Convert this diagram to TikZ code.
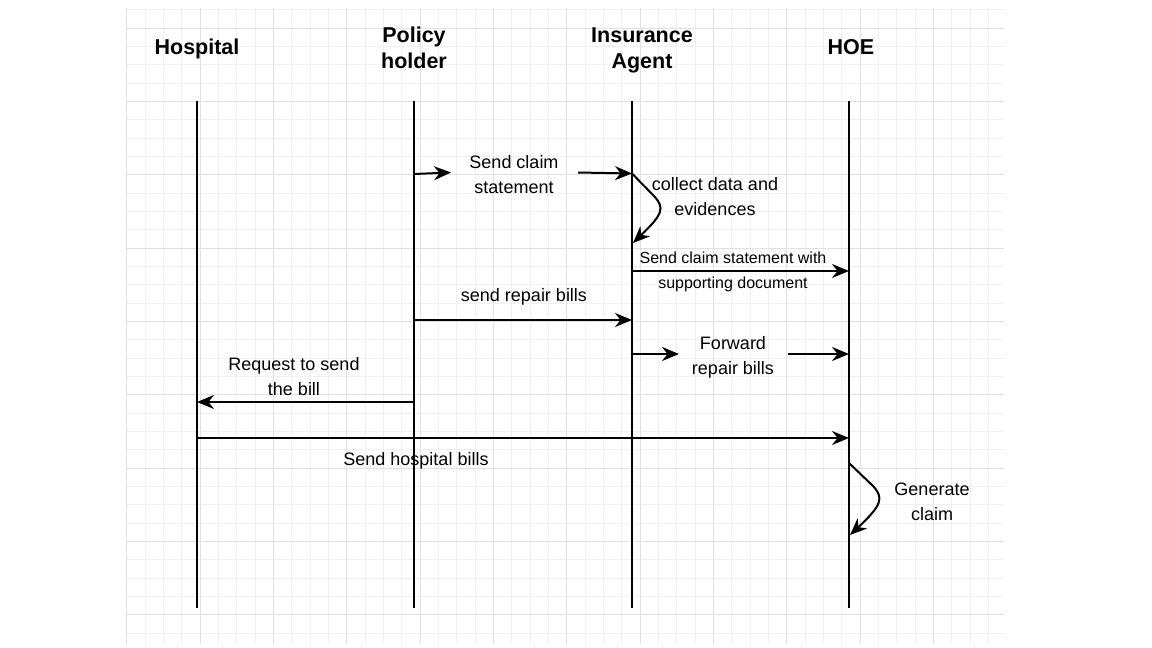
\documentclass[tikz,border=0pt]{standalone}
\usepackage{fontspec}
\setmainfont{Liberation Sans}
\usetikzlibrary{arrows.meta}
\definecolor{minorgrid}{HTML}{F0F0F0}
\definecolor{majorgrid}{HTML}{E0E0E0}
\tikzset{
  lifeline/.style={line width=2pt, black},
  msg/.style={line width=2pt, black, -{Stealth[length=17pt,width=14pt,inset=5.5pt]}},
  head/.style={font=\fontsize{21.5}{26}\selectfont\bfseries, align=center},
  lbl/.style={font=\fontsize{18}{25}\selectfont, align=center},
  small/.style={font=\fontsize{16}{25}\selectfont, align=center},
}
\begin{document}
\begin{tikzpicture}[x=1pt,y=-1pt]
\useasboundingbox (0,0) rectangle (1152,648);
\fill[white] (0,0) rectangle (1152,648);
% grid
\foreach \i in {0,...,47} {
  \pgfmathsetmacro{\xx}{126.7+18.333*\i}
  \draw[minorgrid, line width=0.8pt] (\xx,8) -- (\xx,644);
}
\foreach \j in {0,...,34} {
  \pgfmathsetmacro{\yy}{9.7+18.333*\j}
  \draw[minorgrid, line width=0.8pt] (127,\yy) -- (1004,\yy);
}
\foreach \i in {0,...,11} {
  \pgfmathsetmacro{\xx}{126.7+73.333*\i}
  \draw[majorgrid, line width=0.9pt] (\xx,8) -- (\xx,644);
}
\foreach \j in {0,...,8} {
  \pgfmathsetmacro{\yy}{28+73.333*\j}
  \draw[majorgrid, line width=0.9pt] (127,\yy) -- (1004,\yy);
}
% headers
\node[head] (hH) at (197,49) {Hospital};
\node[head] (hP) at (414,47.5) {Policy\\holder};
\node[head] (hI) at (642,50) {Insurance\\Agent};
\node[head] (hO) at (851,47.5) {HOE};
% lifelines
\coordinate (Htop) at (197,101); \coordinate (Hbot) at (197,608);
\coordinate (Ptop) at (414,101); \coordinate (Pbot) at (414,608);
\coordinate (Itop) at (632,101); \coordinate (Ibot) at (632,608);
\coordinate (Otop) at (849,101); \coordinate (Obot) at (849,608);
\draw[lifeline] (Htop) -- (Hbot);
\draw[lifeline] (Ptop) -- (Pbot);
\draw[lifeline] (Itop) -- (Ibot);
\draw[lifeline] (Otop) -- (Obot);
% 1 send claim statement
\coordinate (m1a) at (414,174);
\coordinate (m1b) at (451,172.5);
\coordinate (m1c) at (578,172.5);
\coordinate (m1d) at (632,173.5);
\node[lbl] (t1) at (514,174.5) {Send claim\\statement};
\draw[msg] (m1a) -- (m1b);
\draw[msg] (m1c) -- (m1d);
% 2 collect data
\coordinate (s2a) at (632,173.5);
\coordinate (s2b) at (633,243);
\draw[msg] (s2a) -- (654,196) .. controls (665,208) and (663,214) .. (s2b);
\node[lbl] (t2) at (715,196.5) {collect data and\\evidences};
% 3 send claim statement with supporting
\coordinate (m3a) at (632,271);
\coordinate (m3b) at (849,271);
\draw[msg] (m3a) -- (m3b);
\node[small] (t3) at (733,272) {Send claim statement with\\supporting document};
% 4 send repair bills
\coordinate (m4a) at (414,320);
\coordinate (m4b) at (632,320);
\draw[msg] (m4a) -- (m4b);
\node[lbl] (t4) at (524,296.5) {send repair bills};
% 5 forward repair bills
\coordinate (m5a) at (632,354);
\coordinate (m5b) at (679,354);
\coordinate (m5c) at (788,354);
\coordinate (m5d) at (849,354);
\draw[msg] (m5a) -- (m5b);
\draw[msg] (m5c) -- (m5d);
\node[lbl] (t5) at (733,357.5) {Forward\\repair bills};
% 6 request to send the bill
\coordinate (m6a) at (414,402);
\coordinate (m6b) at (197,402);
\draw[msg] (m6a) -- (m6b);
\node[lbl] (t6) at (294,376.5) {Request to send\\the bill};
% 7 send hospital bills
\coordinate (m7a) at (197,438);
\coordinate (m7b) at (849,438);
\draw[msg] (m7a) -- (m7b);
\node[lbl] (t7) at (416,460.5) {Send hospital bills};
% 8 generate claim
\coordinate (s8a) at (849,463);
\coordinate (s8b) at (850,535);
\draw[msg] (s8a) -- (873,486) .. controls (884,498) and (882,505) .. (s8b);
\node[lbl] (t8) at (932,501.5) {Generate\\claim};
\end{tikzpicture}
\end{document}
